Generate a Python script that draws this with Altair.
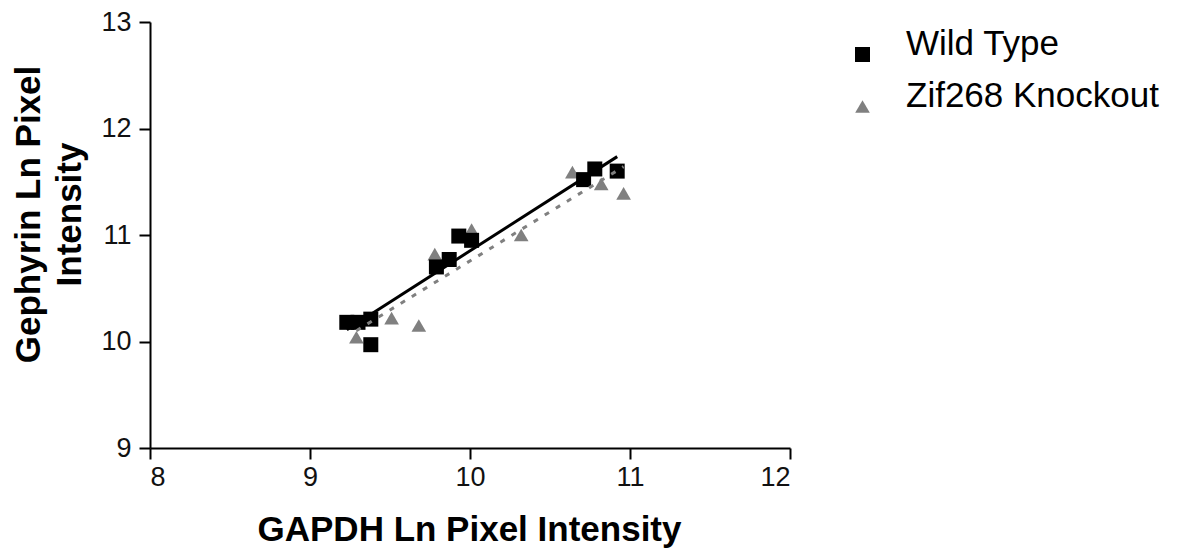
import altair as alt
import pandas as pd

# ---- data ----
groups = ["Wild Type", "Zif268 Knockout"]
wt_x = [9.23, 9.30, 9.38, 9.38, 9.79, 9.87, 9.93, 10.01, 10.71, 10.78, 10.92]
wt_y = [10.18, 10.18, 10.21, 9.97, 10.70, 10.77, 10.99, 10.95, 11.52, 11.62, 11.60]
ko_x = [9.29, 9.51, 9.68, 9.78, 10.01, 10.32, 10.64, 10.82, 10.96]
ko_y = [10.04, 10.22, 10.15, 10.82, 11.05, 11.00, 11.59, 11.48, 11.39]
x_ticks = [8, 9, 10, 11, 12]
y_ticks = [9, 10, 11, 12, 13]
x_title = "GAPDH Ln Pixel Intensity"
y_title = ["Gephyrin Ln Pixel", "Intensity"]

df = pd.DataFrame({
    "x": ko_x + wt_x,
    "y": ko_y + wt_y,
    "group": [groups[1]] * len(ko_x) + [groups[0]] * len(wt_x),
})

FONT = "Liberation Sans, Arial, sans-serif"
axis_common = dict(
    grid=False,
    format="d",
    domainColor="#000000",
    domainWidth=2,
    tickColor="#000000",
    tickWidth=2,
    tickSize=11,
    labelFont=FONT,
    labelFontSize=27,
    labelColor="#111111",
    titleFont=FONT,
    titleFontSize=35,
    titleFontWeight="bold",
    titleColor="#000000",
    titleBaseline="alphabetic",
    titleAlign="center",
)

x_enc = alt.X(
    "x:Q",
    scale=alt.Scale(domain=[8, 12], nice=False, zero=False),
    axis=alt.Axis(values=x_ticks, title=x_title, labelPadding=5,
                  titleX=319, titleY=92, **axis_common),
)
y_enc = alt.Y(
    "y:Q",
    scale=alt.Scale(domain=[9, 13], nice=False, zero=False),
    axis=alt.Axis(values=y_ticks, title=y_title, labelPadding=8,
                  titleAngle=270, titleX=-111, titleY=192, titleLineHeight=41,
                  **axis_common),
)

legend = alt.Legend(
    title=None,
    orient="none",
    legendX=695,
    legendY=15,
    padding=0,
    rowPadding=16,
    symbolSize=169,
    symbolStrokeWidth=0,
    symbolOpacity=1,
    labelFont=FONT,
    labelFontSize=35,
    labelColor="#000000",
    labelBaseline="alphabetic",
    labelOffset=26,
    labelLimit=500,
)

points = alt.Chart(df).mark_point(filled=True, opacity=1, strokeWidth=0).encode(
    x=x_enc,
    y=y_enc,
    color=alt.Color("group:N", scale=alt.Scale(domain=groups, range=["#000000", "#808080"]), legend=legend),
    shape=alt.Shape("group:N", scale=alt.Scale(domain=groups, range=["square", "triangle-up"]), legend=legend),
    size=alt.Size("group:N", scale=alt.Scale(domain=groups, range=[225, 215]), legend=None),
)

ko_line = (
    alt.Chart(df)
    .transform_filter(alt.datum.group == groups[1])
    .transform_regression("x", "y")
    .mark_line(color="#808080", strokeWidth=3, strokeDash=[5, 8])
    .encode(x="x:Q", y="y:Q")
)
wt_line = (
    alt.Chart(df)
    .transform_filter(alt.datum.group == groups[0])
    .transform_regression("x", "y")
    .mark_line(color="#000000", strokeWidth=3)
    .encode(x="x:Q", y="y:Q")
)

chart = (
    alt.layer(points, ko_line, wt_line)
    .properties(
        width=640,
        height=426,
        autosize=alt.AutoSizeParams(type="none"),
        padding={"left": 142, "top": 14, "right": 375, "bottom": 101},
        background="#ffffff",
    )
    .configure_view(strokeWidth=0)
)

chart.save("out.html", embed_options={"renderer": "svg", "actions": False})
